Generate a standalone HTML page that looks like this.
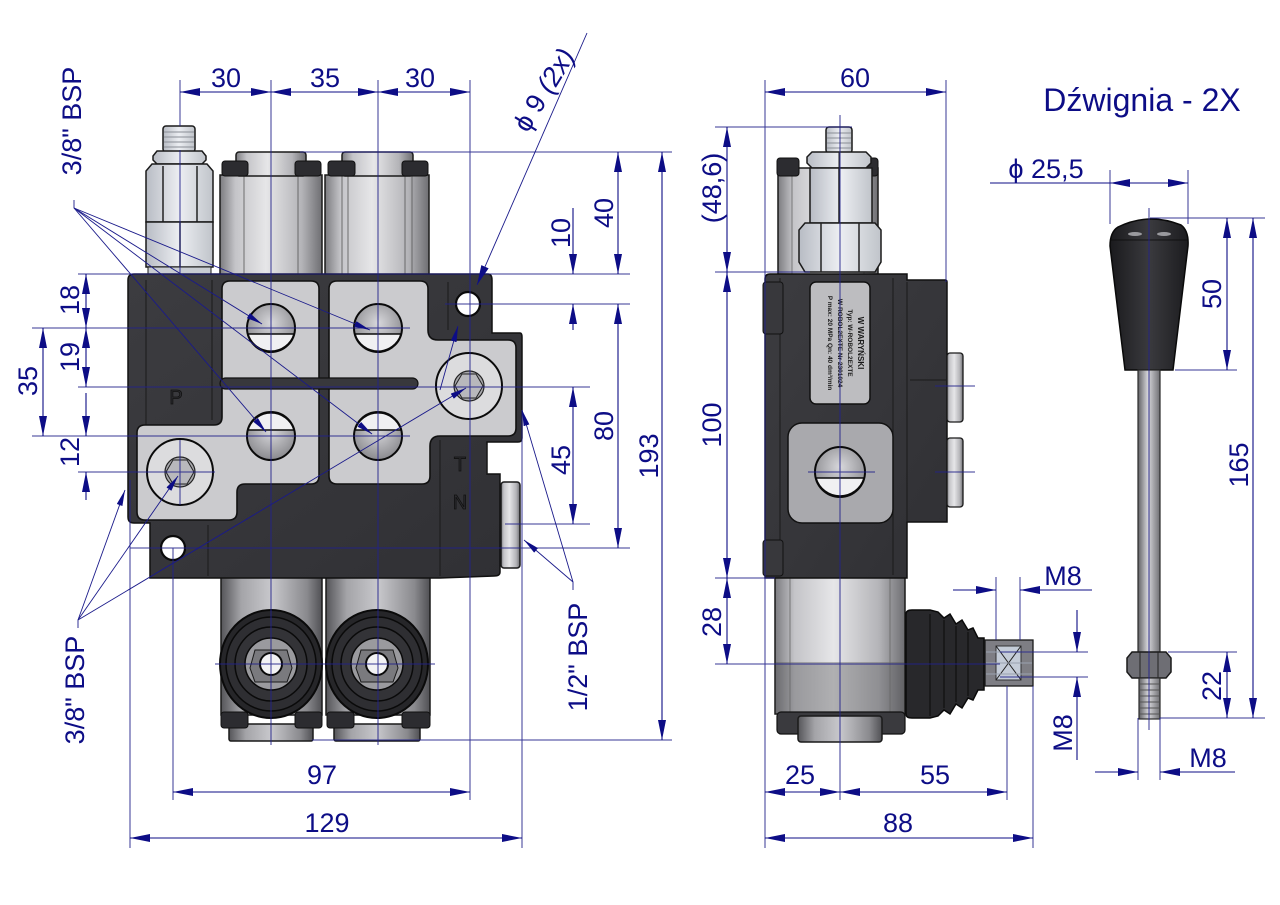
<!DOCTYPE html>
<html><head><meta charset="utf-8">
<style>
html,body{margin:0;padding:0;background:#fff;}
svg{display:block;}
text{font-family:"Liberation Sans",Arial,sans-serif;fill:#0d0d86;}
</style></head>
<body>
<svg width="1280" height="905" viewBox="0 0 1280 905" xmlns="http://www.w3.org/2000/svg">
<defs>
<marker id="a" viewBox="0 0 20 8" refX="20" refY="4" markerWidth="20" markerHeight="8" markerUnits="userSpaceOnUse" orient="auto-start-reverse"><path d="M0,0 L20,4 L0,8 Z" fill="#0d0d86"/></marker>
<marker id="s" viewBox="0 0 16 6" refX="16" refY="3" markerWidth="16" markerHeight="6" markerUnits="userSpaceOnUse" orient="auto-start-reverse"><path d="M0,0 L16,3 L0,6 Z" fill="#0d0d86"/></marker>
<linearGradient id="cyl" x1="0" x2="1" y1="0" y2="0">
<stop offset="0" stop-color="#7c7c80"/><stop offset="0.15" stop-color="#c4c4c8"/><stop offset="0.45" stop-color="#e6e6e8"/><stop offset="0.8" stop-color="#b4b4b8"/><stop offset="1" stop-color="#6e6e72"/></linearGradient>
<linearGradient id="cyld" x1="0" x2="1" y1="0" y2="0">
<stop offset="0" stop-color="#555559"/><stop offset="0.2" stop-color="#a4a4a8"/><stop offset="0.5" stop-color="#c8c8cc"/><stop offset="0.85" stop-color="#8a8a8e"/><stop offset="1" stop-color="#505054"/></linearGradient>
<linearGradient id="hex" x1="0" x2="1" y1="0" y2="0">
<stop offset="0" stop-color="#b8bcc4"/><stop offset="0.5" stop-color="#eceef2"/><stop offset="1" stop-color="#c0c4ca"/></linearGradient>
<linearGradient id="rod" x1="0" x2="1" y1="0" y2="0">
<stop offset="0" stop-color="#606064"/><stop offset="0.45" stop-color="#d6d6da"/><stop offset="1" stop-color="#707074"/></linearGradient>
<linearGradient id="knob" x1="0" x2="1" y1="0" y2="0">
<stop offset="0" stop-color="#1a1a1d"/><stop offset="0.5" stop-color="#3a3a3e"/><stop offset="1" stop-color="#1c1c1f"/></linearGradient>
<radialGradient id="port" cx="0.5" cy="0.4" r="0.6">
<stop offset="0" stop-color="#d8d8dc"/><stop offset="1" stop-color="#8a8a8e"/></radialGradient>
<linearGradient id="body" x1="0" x2="1" y1="0" y2="1">
<stop offset="0" stop-color="#3c3c40"/><stop offset="1" stop-color="#303034"/></linearGradient>
</defs>

<!-- ================= LEFT VIEW ================= -->
<!-- top spools -->
<rect x="220" y="175" width="102" height="100" fill="url(#cyl)" stroke="#1a1a1a" stroke-width="1.5"/>
<line x1="244" y1="175" x2="244" y2="274" stroke="#555" stroke-width="0.8"/>
<line x1="298" y1="175" x2="298" y2="274" stroke="#555" stroke-width="0.8"/>
<rect x="236" y="152" width="70" height="24" rx="3" fill="url(#cyl)" stroke="#1a1a1a" stroke-width="1.5"/>
<rect x="222" y="161" width="26" height="15" rx="3" fill="#2c2c30" stroke="#111"/>
<rect x="295" y="161" width="26" height="15" rx="3" fill="#2c2c30" stroke="#111"/>
<rect x="325" y="175" width="104" height="100" fill="url(#cyl)" stroke="#1a1a1a" stroke-width="1.5"/>
<line x1="342" y1="175" x2="342" y2="274" stroke="#555" stroke-width="0.8"/>
<line x1="348" y1="175" x2="348" y2="274" stroke="#555" stroke-width="0.8"/>
<line x1="405" y1="175" x2="405" y2="274" stroke="#555" stroke-width="0.8"/>
<line x1="412" y1="175" x2="412" y2="274" stroke="#555" stroke-width="0.8"/>
<rect x="342" y="152" width="71" height="24" rx="3" fill="url(#cyl)" stroke="#1a1a1a" stroke-width="1.5"/>
<rect x="328" y="161" width="27" height="15" rx="3" fill="#2c2c30" stroke="#111"/>
<rect x="402" y="161" width="26" height="15" rx="3" fill="#2c2c30" stroke="#111"/>

<!-- relief valve -->
<rect x="163" y="126" width="32" height="26" rx="3" fill="url(#hex)" stroke="#1a1a1a" stroke-width="1.5"/>
<g stroke="#8a8e96" stroke-width="1"><line x1="164" y1="132" x2="194" y2="132"/><line x1="164" y1="137" x2="194" y2="137"/><line x1="164" y1="142" x2="194" y2="142"/><line x1="164" y1="147" x2="194" y2="147"/></g>
<path d="M157,151 H202 L206,156 V160 L202,164 H157 L153,160 V156 Z" fill="url(#hex)" stroke="#1a1a1a" stroke-width="1.5"/>
<path d="M152,164 H207 L213,171 V222 H146 V171 Z" fill="url(#hex)" stroke="#1a1a1a" stroke-width="1.5"/>
<line x1="163" y1="166" x2="163" y2="222" stroke="#222" stroke-width="1.5"/>
<line x1="197" y1="166" x2="197" y2="222" stroke="#222" stroke-width="1.5"/>
<path d="M146,222 H213 V267 H146 Z" fill="url(#hex)" stroke="#1a1a1a" stroke-width="1.5"/>
<line x1="180" y1="222" x2="180" y2="267" stroke="#222" stroke-width="1.5"/>
<rect x="148" y="267" width="63" height="7" fill="#c8ccd2" stroke="#1a1a1a"/>

<!-- bottom spools -->
<rect x="221" y="575" width="101" height="140" fill="url(#cyld)" stroke="#1a1a1a" stroke-width="1.5"/>
<rect x="326" y="575" width="104" height="140" fill="url(#cyld)" stroke="#1a1a1a" stroke-width="1.5"/>
<rect x="229" y="724" width="84" height="17" rx="2" fill="url(#cyld)" stroke="#1a1a1a" stroke-width="1.5"/>
<rect x="334" y="724" width="86" height="17" rx="2" fill="url(#cyld)" stroke="#1a1a1a" stroke-width="1.5"/>
<rect x="221" y="712" width="27" height="16" rx="3" fill="#2c2c30" stroke="#111"/>
<rect x="295" y="712" width="27" height="16" rx="3" fill="#2c2c30" stroke="#111"/>
<rect x="327" y="712" width="27" height="16" rx="3" fill="#2c2c30" stroke="#111"/>
<rect x="402" y="712" width="28" height="16" rx="3" fill="#2c2c30" stroke="#111"/>
<g>
<ellipse cx="271" cy="664" rx="51" ry="54" fill="#262629" stroke="#0a0a0a" stroke-width="2"/>
<ellipse cx="271" cy="664" rx="45" ry="47" fill="#2e2e32" stroke="#0a0a0a" stroke-width="1.5"/>
<ellipse cx="271" cy="664" rx="36" ry="37" fill="#333337" stroke="#0a0a0a" stroke-width="1.5"/>
<circle cx="271" cy="664" r="26" fill="#9a9a9e" stroke="#0a0a0a" stroke-width="1.5"/>
<path d="M255,682 H287 L292,668 L287,650 H255 L250,668 Z" fill="#7a7a7e" stroke="#1a1a1a"/>
<circle cx="271" cy="664" r="11" fill="#f2f2f4" stroke="#0a0a0a" stroke-width="2"/>
</g>
<g>
<ellipse cx="377" cy="664" rx="51" ry="54" fill="#262629" stroke="#0a0a0a" stroke-width="2"/>
<ellipse cx="377" cy="664" rx="45" ry="47" fill="#2e2e32" stroke="#0a0a0a" stroke-width="1.5"/>
<ellipse cx="377" cy="664" rx="36" ry="37" fill="#333337" stroke="#0a0a0a" stroke-width="1.5"/>
<circle cx="377" cy="664" r="26" fill="#9a9a9e" stroke="#0a0a0a" stroke-width="1.5"/>
<path d="M361,682 H393 L398,668 L393,650 H361 L356,668 Z" fill="#7a7a7e" stroke="#1a1a1a"/>
<circle cx="377" cy="664" r="11" fill="#f2f2f4" stroke="#0a0a0a" stroke-width="2"/>
</g>

<!-- main body -->
<path d="M134,274 H488 Q492,274 492,280 V333 H520 Q522,333 522,337 V438 Q522,442 518,442 H487 V474 H500 V572 Q500,576 494,576 L440,578 H150 V523 H134 Q128,523 128,517 V280 Q128,274 134,274 Z" fill="url(#body)" stroke="#111" stroke-width="1.5"/>
<rect x="501" y="482" width="19" height="86" rx="3" fill="url(#cyl)" stroke="#1a1a1a" stroke-width="1.5"/>
<line x1="146" y1="280" x2="146" y2="520" stroke="#1a1a1a" stroke-width="1"/>
<line x1="212" y1="280" x2="212" y2="420" stroke="#1a1a1a" stroke-width="1"/>
<line x1="208" y1="525" x2="208" y2="576" stroke="#1a1a1a" stroke-width="1"/>
<line x1="440" y1="440" x2="440" y2="576" stroke="#1a1a1a" stroke-width="1"/>
<line x1="487" y1="445" x2="487" y2="474" stroke="#1a1a1a" stroke-width="1"/>
<line x1="448" y1="282" x2="448" y2="330" stroke="#1a1a1a" stroke-width="1"/>

<!-- plates -->
<path d="M230,281 H311 Q319,281 319,289 V476 Q319,484 311,484 H245 Q237,484 237,492 V512 Q237,520 229,520 H145 Q137,520 137,512 V433 Q137,425 145,425 H214 Q222,425 222,417 V289 Q222,281 230,281 Z" fill="#cbcbce" stroke="#111" stroke-width="1.6"/>
<path d="M337,281 H420 Q428,281 428,289 V330 Q428,340 438,340 H508 Q516,340 516,348 V428 Q516,436 508,436 H440 Q430,436 430,446 V476 Q430,484 422,484 H337 Q329,484 329,476 V289 Q329,281 337,281 Z" fill="#cbcbce" stroke="#111" stroke-width="1.6"/>
<rect x="220" y="378" width="198" height="11" rx="5.5" fill="#38383c" stroke="#111" stroke-width="1.2"/>
<!-- ports -->
<g stroke="#0a0a0a" stroke-width="2">
<circle cx="271" cy="328" r="24" fill="url(#port)"/>
<path d="M248,334 H294 A24,24 0 0,1 248,334 Z" fill="#f0f0f2" stroke-width="1.5"/>
<circle cx="378" cy="328" r="24" fill="url(#port)"/>
<path d="M355,334 H401 A24,24 0 0,1 355,334 Z" fill="#f0f0f2" stroke-width="1.5"/>
<circle cx="271" cy="436" r="24" fill="url(#port)"/>
<path d="M248,430 H294 A24,24 0 0,0 248,430 Z" fill="#f0f0f2" stroke-width="1.5"/>
<circle cx="378" cy="436" r="24" fill="url(#port)"/>
<path d="M355,430 H401 A24,24 0 0,0 355,430 Z" fill="#f0f0f2" stroke-width="1.5"/>
</g>
<!-- bolts -->
<circle cx="469" cy="386" r="33" fill="#dcdcde" stroke="#0a0a0a" stroke-width="2"/>
<circle cx="469" cy="386" r="15" fill="#a8a8ac" stroke="#222" stroke-width="1.2"/>
<path d="M462,374 H476 L483,386 L476,398 H462 L455,386 Z" fill="#b8b8bc" stroke="#222"/>
<circle cx="180" cy="472" r="33" fill="#dcdcde" stroke="#0a0a0a" stroke-width="2"/>
<circle cx="180" cy="472" r="15" fill="#a8a8ac" stroke="#222" stroke-width="1.2"/>
<path d="M173,460 H187 L194,472 L187,484 H173 L166,472 Z" fill="#b8b8bc" stroke="#222"/>
<!-- holes -->
<circle cx="468" cy="304" r="12" fill="#fff" stroke="#0a0a0a" stroke-width="2.2"/>
<circle cx="173" cy="548" r="12" fill="#fff" stroke="#0a0a0a" stroke-width="2.2"/>
<!-- letters -->
<text x="176" y="404" text-anchor="middle" font-size="20" style="fill:#2c2c30;stroke:#111;stroke-width:0.8">P</text>
<text x="460" y="471" text-anchor="middle" font-size="20" style="fill:#2c2c30;stroke:#111;stroke-width:0.8">T</text>
<text x="460" y="509" text-anchor="middle" font-size="20" style="fill:#2c2c30;stroke:#111;stroke-width:0.8">N</text>

<!-- ================= SIDE VIEW ================= -->
<rect x="778" y="168" width="100" height="107" fill="url(#cyl)" stroke="#1a1a1a" stroke-width="1.5"/>
<line x1="792" y1="170" x2="792" y2="274" stroke="#666" stroke-width="0.8"/>
<line x1="864" y1="170" x2="864" y2="274" stroke="#666" stroke-width="0.8"/>
<rect x="777" y="158" width="22" height="18" rx="3" fill="#2c2c30" stroke="#111"/>
<rect x="856" y="158" width="22" height="18" rx="3" fill="#2c2c30" stroke="#111"/>
<rect x="826" y="127" width="26" height="26" rx="3" fill="url(#hex)" stroke="#1a1a1a" stroke-width="1.5"/>
<g stroke="#8a8e96" stroke-width="1"><line x1="827" y1="133" x2="851" y2="133"/><line x1="827" y1="138" x2="851" y2="138"/><line x1="827" y1="143" x2="851" y2="143"/><line x1="827" y1="148" x2="851" y2="148"/></g>
<path d="M812,152 H866 L871,157 V163 L866,168 H812 L807,163 V157 Z" fill="url(#hex)" stroke="#1a1a1a" stroke-width="1.5"/>
<line x1="839" y1="152" x2="839" y2="168" stroke="#222"/>
<rect x="810" y="168" width="62" height="55" fill="url(#hex)" stroke="#1a1a1a" stroke-width="1.5"/>
<line x1="839" y1="168" x2="839" y2="223" stroke="#222" stroke-width="1.5"/>
<path d="M805,223 H875 L881,230 V262 L875,272 H805 L799,262 V230 Z" fill="url(#hex)" stroke="#1a1a1a" stroke-width="1.5"/>
<line x1="821" y1="223" x2="821" y2="272" stroke="#222" stroke-width="1.5"/>
<line x1="859" y1="223" x2="859" y2="272" stroke="#222" stroke-width="1.5"/>

<!-- lower housing side -->
<rect x="775" y="576" width="130" height="138" fill="url(#cyl)" stroke="#1a1a1a" stroke-width="1.5"/>
<rect x="776" y="662" width="128" height="51" fill="#4a4a4e" opacity="0.35"/>
<line x1="790" y1="578" x2="790" y2="712" stroke="#666" stroke-width="0.8"/>
<line x1="890" y1="578" x2="890" y2="712" stroke="#666" stroke-width="0.8"/>
<rect x="777" y="712" width="128" height="22" rx="4" fill="#3a3a3e" stroke="#111" stroke-width="1.2"/>
<rect x="798" y="716" width="84" height="26" rx="3" fill="url(#cyld)" stroke="#1a1a1a" stroke-width="1.5"/>

<!-- side body -->
<path d="M770,274 H907 V280 H945 Q947,280 947,282 V522 H907 V578 H765 V279 Q765,274 770,274 Z" fill="url(#body)" stroke="#111" stroke-width="1.5"/>
<line x1="780" y1="278" x2="780" y2="575" stroke="#1a1a1a"/>
<line x1="893" y1="278" x2="893" y2="575" stroke="#1a1a1a"/>
<line x1="907" y1="282" x2="907" y2="522" stroke="#1a1a1a"/>
<line x1="910" y1="380" x2="946" y2="380" stroke="#1a1a1a"/>
<rect x="763" y="282" width="20" height="52" rx="3" fill="#38383c" stroke="#111"/>
<rect x="763" y="540" width="20" height="36" rx="3" fill="#38383c" stroke="#111"/>
<rect x="947" y="353" width="16" height="69" rx="3" fill="url(#cyl)" stroke="#1a1a1a" stroke-width="1.3"/>
<rect x="947" y="438" width="16" height="69" rx="3" fill="url(#cyl)" stroke="#1a1a1a" stroke-width="1.3"/>
<!-- label plate -->
<rect x="810" y="282" width="60" height="122" rx="6" fill="#bdbdc0" stroke="#111" stroke-width="1.5"/>
<g transform="translate(840,343) rotate(90)">
<text x="0" y="-18" text-anchor="middle" font-size="8" font-weight="bold" style="fill:#1a1a1a">W WARYŃSKI</text>
<text x="0" y="-8" text-anchor="middle" font-size="6.5" font-weight="bold" style="fill:#1a1a1a">Typ: W-ROBOL2EXTE</text>
<text x="0" y="2" text-anchor="middle" font-size="6.5" font-weight="bold" style="fill:#1a1a1a">W-ROBOL2EXTE Nr 2301024</text>
<text x="0" y="12" text-anchor="middle" font-size="6.5" font-weight="bold" style="fill:#1a1a1a">P max: 20 MPa  Qn: 40 dm³/min</text>
</g>
<!-- gray plate + port -->
<rect x="788" y="423" width="105" height="100" rx="14" fill="#a9a9ad" stroke="#111" stroke-width="1.5"/>
<circle cx="840" cy="472" r="25" fill="url(#port)" stroke="#0a0a0a" stroke-width="2"/>
<path d="M816,478 H864 A25,25 0 0,1 816,478 Z" fill="#f0f0f2" stroke="#0a0a0a" stroke-width="1.5"/>

<!-- boot -->
<path d="M906,614 Q906,610 912,610 H930 L938,612 L944,618 L950,614 L956,624 L962,620 L968,630 L973,628 L978,638 L984,638 V690 L978,690 L973,700 L968,698 L962,708 L956,704 L950,714 L944,710 L938,716 L930,718 H912 Q906,718 906,714 Z" fill="#28282b" stroke="#0a0a0a" stroke-width="1.5"/>
<line x1="930" y1="614" x2="930" y2="716" stroke="#0a0a0a"/>
<line x1="944" y1="620" x2="944" y2="708" stroke="#0a0a0a"/>
<line x1="956" y1="626" x2="956" y2="702" stroke="#0a0a0a"/>
<line x1="968" y1="632" x2="968" y2="696" stroke="#0a0a0a"/>
<!-- thread end -->
<rect x="985" y="640" width="48" height="46" fill="#7e7e84" stroke="#1a1a1a" stroke-width="1.3"/>
<rect x="996" y="646" width="25" height="34" fill="#c4ccd8" stroke="#333"/>
<line x1="996" y1="646" x2="1021" y2="680" stroke="#222"/>
<line x1="996" y1="680" x2="1021" y2="646" stroke="#222"/>
<g stroke="#9aa2b0" stroke-width="1"><line x1="986" y1="652" x2="1032" y2="652"/><line x1="986" y1="663" x2="1032" y2="663"/><line x1="986" y1="674" x2="1032" y2="674"/></g>

<!-- ================= LEVER ================= -->
<path d="M1118,227 Q1149,212 1181,225 Q1189,231 1188,246 L1173,370 H1125 L1110,246 Q1110,232 1118,227 Z" fill="url(#knob)" stroke="#0a0a0a" stroke-width="1.5"/>
<ellipse cx="1135" cy="234" rx="7" ry="2" fill="#9a9a9e"/>
<ellipse cx="1164" cy="234" rx="7" ry="2" fill="#9a9a9e"/>
<line x1="1111" y1="240" x2="1188" y2="240" stroke="#0a0a0a" stroke-width="0.8"/>
<rect x="1138" y="370" width="22" height="284" fill="url(#rod)" stroke="#2a2a2a" stroke-width="1.2"/>
<path d="M1132,652 H1166 L1171,658 V672 L1166,678 H1132 L1127,672 V658 Z" fill="#6e6e74" stroke="#1a1a1a" stroke-width="1.5"/>
<line x1="1140" y1="652" x2="1140" y2="678" stroke="#222"/>
<line x1="1158" y1="652" x2="1158" y2="678" stroke="#222"/>
<rect x="1139" y="678" width="21" height="41" fill="url(#rod)" stroke="#2a2a2a" stroke-width="1.2"/>
<g stroke="#555" stroke-width="1"><line x1="1140" y1="684" x2="1159" y2="684"/><line x1="1140" y1="690" x2="1159" y2="690"/><line x1="1140" y1="696" x2="1159" y2="696"/><line x1="1140" y1="702" x2="1159" y2="702"/><line x1="1140" y1="708" x2="1159" y2="708"/><line x1="1140" y1="714" x2="1159" y2="714"/></g>

<!-- ================= DIMENSION / CENTER LINES ================= -->
<g stroke="#22228a" stroke-width="1" fill="none" opacity="0.9">
<!-- left view extension & center lines -->
<line x1="180" y1="80" x2="180" y2="126"/>
<line x1="180" y1="150" x2="180" y2="275"/>
<line x1="271" y1="80" x2="271" y2="745"/>
<line x1="378" y1="80" x2="378" y2="745"/>
<line x1="470" y1="80" x2="470" y2="800"/>
<line x1="300" y1="152" x2="672" y2="152"/>
<line x1="78" y1="274" x2="630" y2="274"/>
<line x1="445" y1="304" x2="630" y2="304"/>
<line x1="32" y1="328" x2="410" y2="328"/>
<line x1="78" y1="387" x2="590" y2="387"/>
<line x1="32" y1="436" x2="410" y2="436"/>
<line x1="78" y1="472" x2="215" y2="472"/>
<line x1="505" y1="524" x2="590" y2="524"/>
<line x1="130" y1="548" x2="630" y2="548"/>
<line x1="215" y1="664" x2="435" y2="664"/>
<line x1="312" y1="740" x2="672" y2="740"/>
<line x1="130" y1="480" x2="130" y2="848"/>
<line x1="522" y1="410" x2="522" y2="848"/>
<line x1="173" y1="548" x2="173" y2="800"/>
<line x1="180" y1="440" x2="180" y2="505"/>
<!-- side view lines -->
<line x1="765" y1="80" x2="765" y2="848"/>
<line x1="946" y1="80" x2="946" y2="282"/>
<line x1="840" y1="115" x2="840" y2="800"/>
<line x1="715" y1="127" x2="852" y2="127"/>
<line x1="715" y1="272" x2="810" y2="272"/>
<line x1="715" y1="578" x2="775" y2="578"/>
<line x1="715" y1="664" x2="1000" y2="664"/>
<line x1="808" y1="472" x2="875" y2="472"/>
<line x1="935" y1="386" x2="975" y2="386"/>
<line x1="935" y1="472" x2="975" y2="472"/>
<line x1="996" y1="577" x2="996" y2="640"/>
<line x1="1020" y1="577" x2="1020" y2="640"/>
<line x1="1007" y1="686" x2="1007" y2="800"/>
<line x1="1033" y1="686" x2="1033" y2="848"/>
<line x1="1000" y1="652" x2="1088" y2="652"/>
<line x1="1000" y1="677" x2="1088" y2="677"/>
<!-- lever lines -->
<line x1="1149" y1="208" x2="1149" y2="730"/>
<line x1="1110" y1="170" x2="1110" y2="224"/>
<line x1="1188" y1="170" x2="1188" y2="224"/>
<line x1="1150" y1="218" x2="1265" y2="218"/>
<line x1="1175" y1="370" x2="1237" y2="370"/>
<line x1="1168" y1="652" x2="1237" y2="652"/>
<line x1="1160" y1="718" x2="1265" y2="718"/>
<line x1="1138" y1="718" x2="1138" y2="780"/>
<line x1="1160" y1="718" x2="1160" y2="780"/>
</g>

<g stroke="#0d0d86" stroke-width="1.1" fill="none">
<!-- top dims left -->
<line x1="180" y1="92" x2="271" y2="92" marker-start="url(#a)" marker-end="url(#a)"/>
<line x1="271" y1="92" x2="378" y2="92" marker-start="url(#a)" marker-end="url(#a)"/>
<line x1="378" y1="92" x2="470" y2="92" marker-start="url(#a)" marker-end="url(#a)"/>
<!-- right dims left view -->
<line x1="618" y1="152" x2="618" y2="274" marker-start="url(#a)" marker-end="url(#a)"/>
<line x1="573" y1="208" x2="573" y2="274" marker-end="url(#a)"/>
<line x1="573" y1="330" x2="573" y2="304" marker-end="url(#a)"/>
<line x1="618" y1="304" x2="618" y2="548" marker-start="url(#a)" marker-end="url(#a)"/>
<line x1="573" y1="387" x2="573" y2="524" marker-start="url(#a)" marker-end="url(#a)"/>
<line x1="662" y1="152" x2="662" y2="740" marker-start="url(#a)" marker-end="url(#a)"/>
<!-- left dims -->
<line x1="86" y1="274" x2="86" y2="328" marker-start="url(#a)" marker-end="url(#a)"/>
<line x1="86" y1="328" x2="86" y2="387" marker-start="url(#a)" marker-end="url(#a)"/>
<line x1="86" y1="393" x2="86" y2="436" marker-end="url(#a)"/>
<line x1="86" y1="500" x2="86" y2="472" marker-end="url(#a)"/>
<line x1="43" y1="328" x2="43" y2="436" marker-start="url(#a)" marker-end="url(#a)"/>
<!-- bottom dims left -->
<line x1="173" y1="792" x2="470" y2="792" marker-start="url(#a)" marker-end="url(#a)"/>
<line x1="130" y1="838" x2="522" y2="838" marker-start="url(#a)" marker-end="url(#a)"/>
<!-- side dims -->
<line x1="765" y1="92" x2="946" y2="92" marker-start="url(#a)" marker-end="url(#a)"/>
<line x1="727" y1="127" x2="727" y2="272" marker-start="url(#a)" marker-end="url(#a)"/>
<line x1="727" y1="272" x2="727" y2="578" marker-start="url(#a)" marker-end="url(#a)"/>
<line x1="727" y1="578" x2="727" y2="664" marker-start="url(#a)" marker-end="url(#a)"/>
<line x1="765" y1="792" x2="840" y2="792" marker-start="url(#a)" marker-end="url(#a)"/>
<line x1="840" y1="792" x2="1007" y2="792" marker-start="url(#a)" marker-end="url(#a)"/>
<line x1="765" y1="838" x2="1033" y2="838" marker-start="url(#a)" marker-end="url(#a)"/>
<line x1="953" y1="590" x2="996" y2="590" marker-end="url(#a)"/>
<line x1="1092" y1="590" x2="1020" y2="590" marker-end="url(#a)"/>
<line x1="1077" y1="610" x2="1077" y2="652" marker-end="url(#a)"/>
<line x1="1077" y1="760" x2="1077" y2="677" marker-end="url(#a)"/>
<!-- lever dims -->
<line x1="990" y1="183" x2="1110" y2="183"/>
<line x1="1110" y1="183" x2="1188" y2="183" marker-start="url(#a)" marker-end="url(#a)"/>
<line x1="1227" y1="218" x2="1227" y2="370" marker-start="url(#a)" marker-end="url(#a)"/>
<line x1="1253" y1="218" x2="1253" y2="718" marker-start="url(#a)" marker-end="url(#a)"/>
<line x1="1227" y1="652" x2="1227" y2="718" marker-start="url(#a)" marker-end="url(#a)"/>
<line x1="1095" y1="772" x2="1138" y2="772" marker-end="url(#a)"/>
<line x1="1235" y1="772" x2="1160" y2="772" marker-end="url(#a)"/>
</g>

<!-- leaders -->
<g stroke="#1a1a8a" stroke-width="0.9" fill="none">
<line x1="74" y1="200" x2="74" y2="208"/>
<line x1="74" y1="208" x2="262" y2="324" marker-end="url(#s)"/>
<line x1="74" y1="208" x2="370" y2="330" marker-end="url(#s)"/>
<line x1="74" y1="208" x2="266" y2="432" marker-end="url(#s)"/>
<line x1="74" y1="208" x2="372" y2="434" marker-end="url(#s)"/>
<line x1="78" y1="628" x2="78" y2="620"/>
<line x1="78" y1="620" x2="125" y2="490" marker-end="url(#s)"/>
<line x1="78" y1="620" x2="178" y2="476" marker-end="url(#s)"/>
<line x1="78" y1="620" x2="466" y2="388" marker-end="url(#s)"/>
<line x1="573" y1="590" x2="573" y2="582"/>
<line x1="573" y1="582" x2="522" y2="410" marker-end="url(#s)"/>
<line x1="573" y1="582" x2="524" y2="540" marker-end="url(#s)"/>
<line x1="587" y1="33" x2="477" y2="285" marker-end="url(#a)"/>
<line x1="440" y1="390" x2="458" y2="326" marker-end="url(#s)"/>
</g>

<!-- ================= TEXT ================= -->
<g font-size="27">
<text x="226" y="87" text-anchor="middle">30</text>
<text x="325" y="87" text-anchor="middle">35</text>
<text x="420" y="87" text-anchor="middle">30</text>
<text x="855" y="87" text-anchor="middle">60</text>
<text x="322" y="784" text-anchor="middle">97</text>
<text x="327" y="832" text-anchor="middle">129</text>
<text x="800" y="784" text-anchor="middle">25</text>
<text x="935" y="784" text-anchor="middle">55</text>
<text x="898" y="832" text-anchor="middle">88</text>
<text x="1063" y="585" text-anchor="middle">M8</text>
<text x="1208" y="767" text-anchor="middle">M8</text>
<text x="1046" y="178" text-anchor="middle">ϕ 25,5</text>

<text transform="translate(604,213) rotate(-90)" text-anchor="middle" dominant-baseline="central">40</text>
<text transform="translate(561,233) rotate(-90)" text-anchor="middle" dominant-baseline="central">10</text>
<text transform="translate(604,426) rotate(-90)" text-anchor="middle" dominant-baseline="central">80</text>
<text transform="translate(561,460) rotate(-90)" text-anchor="middle" dominant-baseline="central">45</text>
<text transform="translate(649,456) rotate(-90)" text-anchor="middle" dominant-baseline="central">193</text>
<text transform="translate(70,300) rotate(-90)" text-anchor="middle" dominant-baseline="central">18</text>
<text transform="translate(70,357) rotate(-90)" text-anchor="middle" dominant-baseline="central">19</text>
<text transform="translate(70,452) rotate(-90)" text-anchor="middle" dominant-baseline="central">12</text>
<text transform="translate(28,381) rotate(-90)" text-anchor="middle" dominant-baseline="central">35</text>
<text transform="translate(72,121) rotate(-90)" text-anchor="middle" dominant-baseline="central">3/8" BSP</text>
<text transform="translate(75,690) rotate(-90)" text-anchor="middle" dominant-baseline="central">3/8" BSP</text>
<text transform="translate(578,657) rotate(-90)" text-anchor="middle" dominant-baseline="central">1/2" BSP</text>
<text transform="translate(712,188) rotate(-90)" text-anchor="middle" dominant-baseline="central">(48,6)</text>
<text transform="translate(712,425) rotate(-90)" text-anchor="middle" dominant-baseline="central">100</text>
<text transform="translate(712,622) rotate(-90)" text-anchor="middle" dominant-baseline="central">28</text>
<text transform="translate(1063,733) rotate(-90)" text-anchor="middle" dominant-baseline="central">M8</text>
<text transform="translate(1212,294) rotate(-90)" text-anchor="middle" dominant-baseline="central">50</text>
<text transform="translate(1239,465) rotate(-90)" text-anchor="middle" dominant-baseline="central">165</text>
<text transform="translate(1212,686) rotate(-90)" text-anchor="middle" dominant-baseline="central">22</text>
<text transform="translate(544,90) rotate(-58.5)" text-anchor="middle" dominant-baseline="central">ϕ 9 <tspan font-style="italic">(2x)</tspan></text>
</g>
<text x="1142" y="111" text-anchor="middle" font-size="32">Dźwignia - 2X</text>
</svg>
</body></html>
